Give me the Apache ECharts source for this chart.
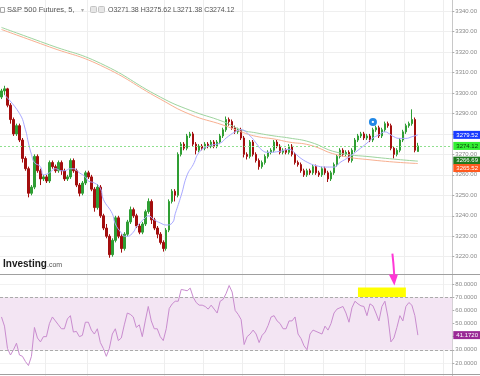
<!DOCTYPE html>
<html>
<head>
<meta charset="utf-8">
<script src="https://cdn.jsdelivr.net/npm/echarts@6/dist/echarts.min.js"></script>
<style>
  html, body { margin: 0; padding: 0; background: #fff; }
  #chart { width: 480px; height: 376px; }
</style>
</head>
<body>
<div id="chart"></div>
<script>
// 5 minute bars, [open, close, low, high]
const candles = [
  [3298, 3301, 3297, 3302], [3301, 3302, 3299, 3303.5], [3302, 3294, 3293, 3302.5], [3294, 3287, 3285, 3295],
  [3287, 3280, 3279, 3288], [3280, 3284, 3279, 3285], [3284, 3277, 3276, 3285], [3277, 3268, 3266, 3278],
  [3268, 3263, 3262, 3269], [3263, 3251, 3249, 3264], [3251, 3254, 3250, 3255], [3254, 3269, 3253, 3270],
  [3269, 3262, 3261, 3270], [3262, 3258, 3255, 3263], [3258, 3259, 3257, 3260], [3259, 3257, 3256, 3260],
  [3257, 3266, 3256, 3267], [3266, 3264, 3263, 3267], [3264, 3262, 3261, 3265], [3262, 3266, 3261, 3267],
  [3266, 3262, 3260, 3267], [3262, 3258, 3257, 3263], [3258, 3259, 3257, 3260], [3259, 3267, 3258, 3268],
  [3267, 3262, 3261, 3268], [3262, 3255, 3254, 3263], [3255, 3251, 3249.5, 3256], [3251, 3256, 3250, 3257],
  [3256, 3261, 3255, 3262], [3261, 3259, 3258, 3262], [3259, 3253, 3252, 3260], [3253, 3244, 3242, 3254],
  [3244, 3254, 3243, 3255.5], [3254, 3240, 3239, 3255], [3240, 3234, 3233, 3241], [3234, 3230, 3229, 3236],
  [3230, 3221, 3219.5, 3231], [3221, 3228, 3220, 3229], [3228, 3239, 3227, 3240], [3239, 3230, 3229, 3240],
  [3230, 3224, 3222, 3231], [3224, 3231, 3223, 3232], [3231, 3237, 3230, 3238], [3237, 3243, 3236, 3244.5],
  [3243, 3240, 3239, 3244], [3240, 3235, 3234, 3241], [3235, 3232, 3231, 3236], [3232, 3236, 3231, 3237],
  [3236, 3242, 3235, 3243], [3242, 3247, 3241, 3248.5], [3247, 3238, 3236, 3248], [3238, 3234, 3233, 3239],
  [3234, 3231, 3229, 3235], [3231, 3227, 3226, 3232], [3227, 3224, 3222.5, 3228], [3224, 3233, 3223, 3234],
  [3233, 3247, 3232, 3248], [3247, 3252, 3246, 3253], [3252, 3250, 3247, 3253], [3250, 3270, 3249, 3271],
  [3270, 3275, 3269, 3276], [3275, 3273, 3272, 3276], [3273, 3279, 3272, 3280], [3279, 3280, 3278, 3281],
  [3280, 3275, 3274, 3281], [3275, 3272, 3270, 3276], [3272, 3274, 3271, 3275], [3274, 3273, 3272, 3275],
  [3273, 3275, 3272, 3276], [3275, 3274, 3273, 3276], [3274, 3276, 3273, 3277], [3276, 3274, 3273, 3277],
  [3274, 3276, 3273, 3277], [3276, 3279, 3275, 3280], [3279, 3282, 3278, 3283], [3282, 3287, 3281, 3288.5],
  [3287, 3286, 3284, 3288], [3286, 3283, 3282, 3287], [3283, 3281, 3280, 3284], [3281, 3282, 3280, 3283],
  [3282, 3278, 3277, 3283], [3278, 3270, 3268.5, 3279], [3270, 3269, 3267.5, 3271], [3269, 3276, 3268, 3277],
  [3276, 3270, 3269, 3277], [3270, 3267, 3266, 3271], [3267, 3264, 3262.5, 3268], [3264, 3266, 3263, 3267],
  [3266, 3269, 3265, 3270], [3269, 3271, 3268, 3272], [3271, 3272, 3270, 3273], [3272, 3276, 3271, 3277],
  [3276, 3274, 3273, 3277], [3274, 3271, 3270, 3275], [3271, 3272, 3270, 3273], [3272, 3271, 3270, 3273],
  [3271, 3274, 3270, 3275], [3274, 3270, 3269, 3275], [3270, 3266, 3265, 3271], [3266, 3265, 3264, 3267],
  [3265, 3262, 3261, 3266], [3262, 3260, 3259, 3263], [3260, 3262, 3259, 3263], [3262, 3261, 3260, 3263],
  [3261, 3264, 3260, 3265], [3264, 3261, 3260, 3265], [3261, 3260, 3259, 3262], [3260, 3263, 3259, 3264],
  [3263, 3261, 3260, 3264], [3261, 3258, 3256.5, 3262], [3258, 3261, 3257, 3262], [3261, 3265, 3260, 3266],
  [3265, 3269, 3264, 3270], [3269, 3272, 3268, 3273], [3272, 3270, 3269, 3273], [3270, 3271, 3269, 3272],
  [3271, 3267, 3266, 3272], [3267, 3272, 3266, 3273], [3272, 3277, 3271, 3278], [3277, 3279, 3276, 3280],
  [3279, 3280, 3278, 3281], [3280, 3278, 3277, 3281], [3278, 3279, 3277, 3280], [3279, 3277, 3276, 3280],
  [3277, 3282, 3276, 3283], [3282, 3283, 3281, 3284], [3283, 3279, 3278, 3284], [3279, 3282, 3278, 3283],
  [3282, 3285, 3281, 3286], [3285, 3284, 3283, 3286], [3284, 3273, 3272, 3285], [3273, 3270, 3268, 3274],
  [3270, 3272, 3269, 3273], [3272, 3277, 3271, 3278], [3277, 3281, 3276, 3282], [3281, 3284, 3280, 3285],
  [3284, 3285, 3283, 3286], [3285, 3287, 3284, 3292], [3287, 3272, 3271, 3288], [3271.38, 3274.12, 3271.38, 3275.62]
];

// moving averages, [bar index, value]
const maBlue = [
  [1, 3299], [6, 3290], [8, 3282], [9, 3275.5], [10, 3270], [11, 3266], [13, 3264], [14, 3260], [16, 3261],
  [18, 3263], [20, 3262], [21, 3262], [23, 3263], [24, 3263], [26, 3261], [28, 3259], [29, 3257], [31, 3256],
  [33, 3253.5], [34, 3248], [37, 3241], [38, 3236], [40, 3231.6], [41, 3230], [42, 3230], [44, 3232],
  [45, 3234.5], [48, 3239], [49, 3240], [51, 3238], [53, 3236.5], [55, 3235.5], [57, 3236.5], [58, 3241],
  [60, 3250], [62, 3260], [64, 3265], [66, 3271], [69, 3274], [73, 3275.5], [75, 3278], [78, 3281],
  [80, 3282], [83, 3279], [85, 3275.5], [87, 3272], [89, 3271], [93, 3271.5], [96, 3272.5], [98, 3270.5],
  [100, 3268], [103, 3265.5], [105, 3264.5], [108, 3263.8], [111, 3263.8], [113, 3266], [116, 3268.7],
  [119, 3272], [122, 3275.5], [124, 3278], [126, 3279.5], [128, 3281], [129, 3280.5], [131, 3278.6],
  [133, 3277.8], [135, 3277.8], [137, 3278.6], [139, 3279.52]
];
const maGreen = [
  [0, 3332], [16, 3323.5], [33, 3314.5], [53, 3298], [63, 3291.5], [74, 3286], [80, 3282], [85, 3280.5],
  [91, 3279], [96, 3278], [103, 3276], [112, 3271], [124, 3268.7], [139, 3266.69]
];
const maOrange = [
  [0, 3331], [16, 3322.5], [33, 3313.5], [53, 3297], [63, 3289.5], [74, 3284.3], [80, 3281], [85, 3278.8],
  [91, 3277.5], [96, 3276], [103, 3274.5], [112, 3269.8], [124, 3267.2], [139, 3265.52]
];

const rsi = [
  55, 48, 31, 26, 30, 35, 26, 25, 21, 18, 25, 47, 39, 36, 40, 40, 50, 55, 52, 49,
  46, 46, 53.5, 56, 43.5, 44, 40, 41, 51, 51, 45, 42, 46, 35.5, 31, 25, 31, 42, 46, 37,
  39, 49, 58, 57, 55, 47, 49, 40, 52, 63, 52, 46, 46, 40, 37, 46, 61.5, 65, 67, 67,
  76, 75.5, 75, 77, 70, 66, 64, 64, 63, 61, 64, 61, 58, 67, 68.5, 73, 79, 74, 60, 57,
  53, 34, 40, 42, 45, 42, 35.5, 41, 43.5, 48.5, 55, 56, 52, 50, 46, 46, 52, 52, 55, 42,
  38.5, 33, 30, 42, 45, 44, 43, 42, 48, 45, 50, 58, 61, 62, 63, 58, 51, 62, 67, 65,
  63.5, 63, 56, 65, 63.5, 58, 52, 63, 67, 55, 36, 39, 47, 56, 52, 63, 66, 64, 56, 41.172
];

const slots = 151; // bars plus empty space on the right
const cats = Array.from({ length: slots }, (_, i) => String(i));
const vGridAt = [15, 29, 55, 68, 81, 95, 108, 122, 135, 148];
const last = candles[candles.length - 1];

const chart = echarts.init(document.getElementById('chart'), null, { renderer: 'canvas' });

const FONT = 'Liberation Sans, Arial, sans-serif';
const axisText = { color: '#8a8a8a', fontSize: 6, fontFamily: FONT, margin: 3 };
const HIDDEN = 'rgba(0,0,0,0)';

function xAxisFor(gridIndex) {
  return {
    type: 'category', gridIndex, data: cats, boundaryGap: true,
    axisLine: { show: false }, axisTick: { show: false }, axisLabel: { show: false },
    splitLine: { show: true, interval: (i) => vGridAt.includes(i), lineStyle: { color: '#eeeeee', width: 1 } }
  };
}

// price tag on the right axis; dy nudges tags that would sit on top of each other
function badge(value, bg, fg, digits, dy) {
  return {
    yAxis: value,
    lineStyle: { color: HIDDEN, width: 0 },
    label: {
      show: true, position: 'end', distance: 1, offset: [0, dy || 0],
      formatter: value.toFixed(digits),
      backgroundColor: bg, color: fg, fontSize: 6, fontFamily: FONT,
      padding: [1, 3, 1, 3]
    }
  };
}

const mainLines = Array.from({ length: 15 }, (_, i) => (i === 0 || i === 14 ? HIDDEN : '#efefef'));
const rsiLines = Array.from({ length: 9 }, (_, i) => (i === 0 || i === 8 ? HIDDEN : '#f2f2f2'));

chart.setOption({
  animation: false,
  backgroundColor: '#fff',
  grid: [
    { left: 0, right: 26.5, top: 0, height: 277.2 },
    { left: 0, right: 26.5, top: 275, height: 102.3 }
  ],
  xAxis: [xAxisFor(0), xAxisFor(1)],
  yAxis: [
    {
      type: 'value', gridIndex: 0, position: 'right', min: 3210, max: 3345.4, interval: 10,
      axisLine: { show: true, lineStyle: { color: '#c8c8c8' } },
      axisTick: { show: true, length: 2, lineStyle: { color: '#aaa' } },
      axisLabel: Object.assign({ formatter: (v) => v.toFixed(2), showMinLabel: false, showMaxLabel: false }, axisText),
      splitLine: { show: true, lineStyle: { color: mainLines } }
    },
    {
      type: 'value', gridIndex: 1, position: 'right', min: 10, max: 87, interval: 10,
      axisLine: { show: true, lineStyle: { color: '#c8c8c8' } },
      axisTick: { show: true, length: 2, lineStyle: { color: '#aaa' } },
      axisLabel: Object.assign({ formatter: (v) => v.toFixed(4), showMinLabel: false, showMaxLabel: false }, axisText),
      splitLine: { show: true, lineStyle: { color: rsiLines } }
    }
  ],
  series: [
    {
      type: 'line', name: 'MA green', xAxisIndex: 0, yAxisIndex: 0, data: maGreen, smooth: true,
      showSymbol: false, lineStyle: { color: '#9ed49e', width: 1 },
      markLine: { symbol: 'none', silent: true, z: 10, data: [badge(maGreen[maGreen.length - 1][1], '#1f7a1f', '#fff', 2, -0.5)] }
    },
    {
      type: 'line', name: 'MA orange', xAxisIndex: 0, yAxisIndex: 0, data: maOrange, smooth: true,
      showSymbol: false, lineStyle: { color: '#f8b091', width: 1 },
      markLine: { symbol: 'none', silent: true, z: 10, data: [badge(maOrange[maOrange.length - 1][1], '#ff5a1f', '#fff', 2, 4.5)] }
    },
    {
      type: 'line', name: 'MA blue', xAxisIndex: 0, yAxisIndex: 0, data: maBlue, smooth: true,
      showSymbol: false, lineStyle: { color: '#a8a8ff', width: 1 },
      markLine: { symbol: 'none', silent: true, z: 10, data: [badge(maBlue[maBlue.length - 1][1], '#1a3cff', '#fff', 2)] }
    },
    {
      type: 'candlestick', name: 'S&P 500 Futures', xAxisIndex: 0, yAxisIndex: 0, data: candles,
      barWidth: 2,
      itemStyle: { color: '#2f9e34', color0: '#a30e0e', borderColor: '#2f9e34', borderColor0: '#a30e0e', borderWidth: 1 },
      markLine: {
        symbol: 'none', silent: true, z: 10,
        data: [{
          yAxis: last[1],
          lineStyle: { color: '#8fe08f', type: [2, 2], width: 1 },
          label: {
            show: true, position: 'end', distance: 1, formatter: last[1].toFixed(2),
            backgroundColor: '#33ee33', color: '#0b3d0b', fontSize: 6, fontFamily: FONT, padding: [1, 3, 1, 3]
          }
        }]
      },
      markPoint: {
        silent: true,
        data: [{
          coord: [124, 3285.8], symbol: 'circle', symbolSize: 8,
          itemStyle: { color: '#2389e6' },
          label: { show: true, formatter: '■', color: '#fff', fontSize: 4, position: 'inside' }
        }]
      }
    },
    {
      type: 'line', name: 'RSI', xAxisIndex: 1, yAxisIndex: 1, data: rsi,
      showSymbol: false, lineStyle: { color: '#c98ccf', width: 1 },
      markArea: {
        silent: true,
        data: [
          [{ yAxis: 30, itemStyle: { color: '#f3e5f3' } }, { yAxis: 70 }],
          [{ xAxis: 119, yAxis: 70.3, itemStyle: { color: '#ffff00' } }, { xAxis: 135, yAxis: 77.5 }]
        ]
      },
      markLine: {
        symbol: 'none', silent: true, z: 10,
        data: [
          { yAxis: 70, lineStyle: { color: '#aaaaaa', type: [3, 2], width: 1 }, label: { show: false } },
          { yAxis: 30, lineStyle: { color: '#aaaaaa', type: [3, 2], width: 1 }, label: { show: false } },
          badge(rsi[rsi.length - 1], '#9a2a96', '#fff', 4)
        ]
      }
    }
  ]
});

// chrome and annotations
const arrowX = chart.convertToPixel({ xAxisIndex: 1 }, 131);
const tipY = chart.convertToPixel({ yAxisIndex: 1 }, 79);
const arrowTop = chart.convertToPixel({ yAxisIndex: 0 }, 3221.5);
const ohlc = 'O' + last[0].toFixed(2) + ' H' + last[3].toFixed(2) + ' L' + last[2].toFixed(2) + ' C' + last[1].toFixed(2);

chart.setOption({
  graphic: [
    { type: 'line', shape: { x1: 0, y1: 274.5, x2: 480, y2: 274.5 }, style: { stroke: '#a0a0a0', lineWidth: 1 }, z: 50 },
    { type: 'line', shape: { x1: 0, y1: 374.5, x2: 480, y2: 374.5 }, style: { stroke: '#a0a0a0', lineWidth: 1 }, z: 50 },
    { type: 'rect', shape: { x: 0.5, y: 7.5, width: 4, height: 5 }, style: { fill: 'none', stroke: '#aaa', lineWidth: 1 }, z: 50 },
    { type: 'text', x: 7, y: 10, style: { text: 'S&P 500 Futures, 5,', fontSize: 7.5, fontFamily: FONT, fill: '#555', verticalAlign: 'middle' }, z: 50 },
    { type: 'text', x: 81, y: 10, style: { text: '▾', fontSize: 6, fontFamily: FONT, fill: '#aaa', verticalAlign: 'middle' }, z: 50 },
    { type: 'rect', shape: { x: 90.5, y: 6.5, width: 6, height: 6, r: 1 }, style: { fill: '#e6e6e6', stroke: '#c4c4c4', lineWidth: 1 }, z: 50 },
    { type: 'rect', shape: { x: 98.5, y: 6.5, width: 6, height: 6, r: 1 }, style: { fill: '#e6e6e6', stroke: '#c4c4c4', lineWidth: 1 }, z: 50 },
    { type: 'text', x: 108, y: 10, style: { text: ohlc, fontSize: 7, fontFamily: FONT, fill: '#555', verticalAlign: 'middle' }, z: 50 },
    { type: 'text', x: 3, y: 264, style: { text: 'Investing', fontSize: 10, fontWeight: 'bold', fontFamily: FONT, fill: '#1a1a1a', verticalAlign: 'middle' }, z: 50 },
    { type: 'text', x: 47, y: 265.5, style: { text: '.com', fontSize: 7, fontFamily: FONT, fill: '#555', verticalAlign: 'middle' }, z: 50 },
    {
      type: 'polyline', z: 60,
      shape: { points: [[arrowX - 1.5, arrowTop], [arrowX - 0.5, arrowTop + 10], [arrowX + 0.5, tipY - 8]] },
      style: { stroke: '#ff38d6', lineWidth: 2, fill: 'none' }
    },
    {
      type: 'polygon', z: 60,
      shape: { points: [[arrowX - 5, tipY - 11], [arrowX + 4, tipY - 11], [arrowX + 0.5, tipY]] },
      style: { fill: '#ff38d6' }
    }
  ]
});
</script>
</body>
</html>
